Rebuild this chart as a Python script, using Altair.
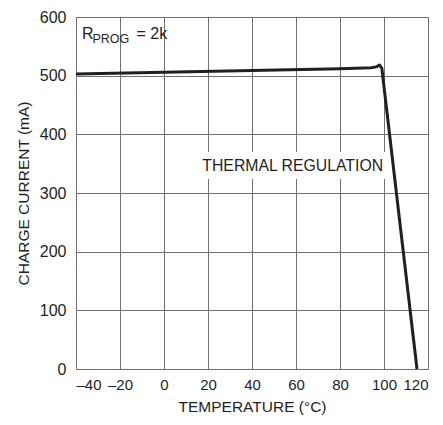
import altair as alt
import pandas as pd

temp = [-40, 0, 40, 80, 94, 96.5, 98, 99, 115]
current = [503, 506, 509, 512, 513.5, 515, 518, 513, 0]

FONT = "Liberation Sans"
df = pd.DataFrame({"t": temp, "i": current})

xs = alt.Scale(domain=[-40, 120], nice=False, zero=False)
ys = alt.Scale(domain=[0, 600], nice=False)

base = alt.Chart(df)

line = base.mark_line(color="#231f20", strokeWidth=3, strokeJoin="round").encode(
    x=alt.X("t:Q", scale=xs,
            axis=alt.Axis(values=list(range(-40, 121, 20)), title="TEMPERATURE (°C)",
                          labelExpr="datum.value < 0 ? '–' + abs(datum.value) : datum.value",
                          grid=True, gridColor="#707070", gridWidth=1, ticks=False, domain=False,
                          labelFont=FONT, labelFontSize=15, labelColor="#231f20", labelPadding=8,
                          titleFont=FONT, titleFontSize=15.5, titleFontWeight="normal", titleColor="#231f20",
                          titlePadding=7)),
    y=alt.Y("i:Q", scale=ys,
            axis=alt.Axis(values=list(range(0, 601, 100)), title="CHARGE CURRENT (mA)",
                          grid=True, gridColor="#707070", gridWidth=1, ticks=False, domain=False,
                          labelFont=FONT, labelFontSize=16, labelColor="#231f20", labelPadding=10,
                          titleFont=FONT, titleFontSize=15.5, titleFontWeight="normal", titleColor="#231f20",
                          titlePadding=8)),
)

ann = pd.DataFrame({"x1": [16.5], "x2": [100.5], "y1": [324], "y2": [370], "tx": [58.5], "ty": [346],
                    "label": ["THERMAL REGULATION"]})
box = alt.Chart(ann).mark_rect(color="white").encode(
    x=alt.X("x1:Q", scale=xs), x2="x2:Q", y=alt.Y("y1:Q", scale=ys), y2="y2:Q")
txt = alt.Chart(ann).mark_text(font=FONT, fontSize=15.8, color="#231f20").encode(
    x=alt.X("tx:Q", scale=xs), y=alt.Y("ty:Q", scale=ys), text="label:N")

rlab = pd.DataFrame({"x": [-37.3], "y": [571]})
r1 = alt.Chart(rlab).mark_text(font=FONT, fontSize=16, color="#231f20", align="left", baseline="middle", text="R").encode(
    x=alt.X("x:Q", scale=xs), y=alt.Y("y:Q", scale=ys))
r2 = alt.Chart(rlab).mark_text(font=FONT, fontSize=12.5, color="#231f20", align="left", baseline="middle",
                               text="PROG", dx=10.5, dy=4.5).encode(
    x=alt.X("x:Q", scale=xs), y=alt.Y("y:Q", scale=ys))
r3 = alt.Chart(rlab).mark_text(font=FONT, fontSize=16, color="#231f20", align="left", baseline="middle",
                               text="= 2k", dx=54.5).encode(
    x=alt.X("x:Q", scale=xs), y=alt.Y("y:Q", scale=ys))

chart = alt.layer(line, box, txt, r1, r2, r3).properties(
    width=352, height=352,
    autosize=alt.AutoSizeParams(type="none"),
    padding={"left": 68, "top": 9, "right": 7, "bottom": 48},
).configure_view(stroke="#231f20", strokeWidth=2).configure(background="white")

chart.save("out.html", embed_options={"renderer": "svg", "actions": False})
